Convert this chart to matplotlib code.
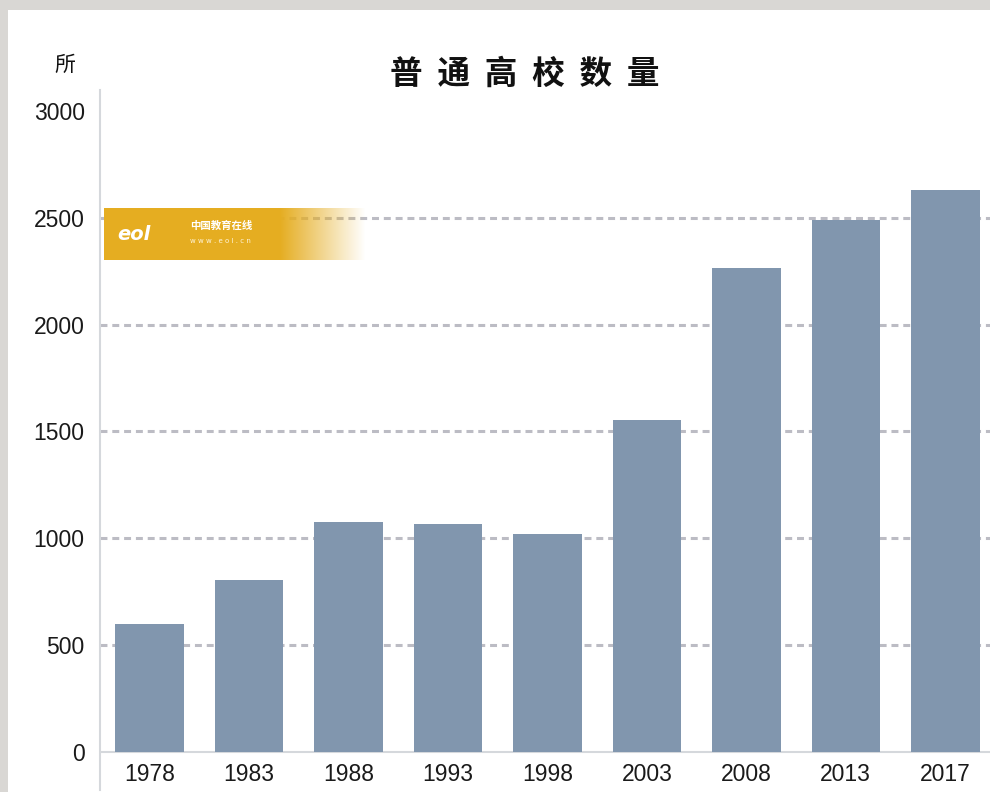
import matplotlib.pyplot as plt
import numpy as np
from matplotlib.patches import Rectangle

years = ["1978", "1983", "1988", "1993", "1998", "2003", "2008", "2013", "2017"]
counts = [598, 805, 1075, 1065, 1022, 1552, 2263, 2491, 2631]
yticks = [0, 500, 1000, 1500, 2000, 2500, 3000]
title = "普  通  高  校  数  量"
unit = "所"

plt.rcParams['font.family'] = ['Liberation Sans', 'Noto Sans CJK SC', 'DejaVu Sans']
plt.rcParams['lines.scale_dashes'] = False

W, H = 990, 792
fig = plt.figure(figsize=(W / 100, H / 100), dpi=100)
fig.patch.set_facecolor('#d9d7d4')

# white panel over the grey backdrop
fig.patches.append(Rectangle((8 / W, 0), 1, (H - 10) / H, transform=fig.transFigure,
                             facecolor='white', edgecolor='none', zorder=-5))

ax = fig.add_axes([100 / W, 2 / H, 1 - 100 / W, 700 / H])
ax.set_facecolor('none')
ax.set_zorder(2)

x = np.arange(len(years))
ax.bar(x, counts, width=0.69, color='#8196ae', zorder=3)

ax.set_xlim(-0.5, 8.45)
ax.set_ylim(-178, 3098)

# dashed grid lines
for v in yticks[1:-1]:
    ax.axhline(v, color='#bcbcc4', lw=2.2, dashes=(5, 3.5), zorder=1)
ax.axhline(0, color='#d5d8dc', lw=1.5, zorder=2)

for s in ['top', 'right', 'bottom']:
    ax.spines[s].set_visible(False)
ax.spines['left'].set_color('#d5d8dc')
ax.spines['left'].set_linewidth(1.5)

ax.set_yticks(yticks)
ax.set_yticklabels([str(v) for v in yticks], fontsize=16.5, color='#1a1a1a')
ax.tick_params(axis='y', length=0, pad=11)
ax.set_xticks([])

for xi, lab in zip(x, years):
    ax.text(xi, -105, lab, ha='center', va='center', fontsize=16.5, color='#1a1a1a')

fig.text(525 / W, 1 - 74 / H, title, ha='center', va='center', fontsize=23.5,
         fontweight='bold', family=['Noto Sans CJK SC', 'DejaVu Sans'], color='#111111')
fig.text(65 / W, 1 - 65 / H, unit, ha='center', va='center', fontsize=15,
         family=['Noto Sans CJK SC', 'DejaVu Sans'], color='#111111')

# eol watermark banner
wax = fig.add_axes([104 / W, 1 - 260 / H, 260 / W, 52 / H])
wax.set_zorder(3)
wax.axis('off')
xs = np.arange(260)
grad = np.ones((2, 260, 4))
grad[..., 0] = 0.90
grad[..., 1] = 0.68
grad[..., 2] = 0.13
grad[..., 3] = np.clip(1 - (xs - 175) / 85, 0, 1)
wax.imshow(grad, aspect='auto', extent=(0, 1, 0, 1))
wax.set_xlim(0, 1)
wax.set_ylim(0, 1)
wax.text(0.05, 0.5, "eol", color='white', fontsize=14, fontweight='bold',
         style='italic', va='center', ha='left', family='DejaVu Sans')
wax.text(0.33, 0.66, "中国教育在线", color='white', fontsize=7.5, fontweight='bold',
         va='center', ha='left', family=['Noto Sans CJK SC', 'DejaVu Sans'])
wax.text(0.33, 0.36, "w w w . e o l . c n", color='#fff4d8', fontsize=5,
         va='center', ha='left', family='DejaVu Sans')

fig.savefig('out.png', dpi=100, facecolor=fig.get_facecolor())
